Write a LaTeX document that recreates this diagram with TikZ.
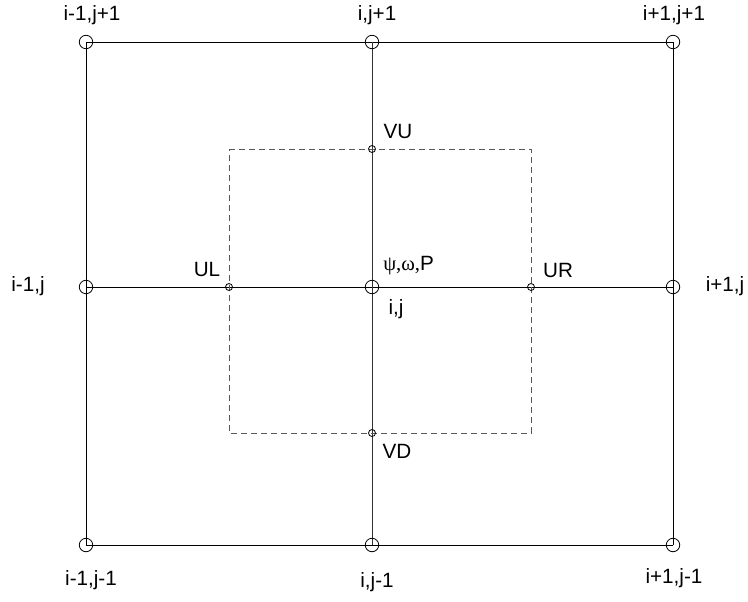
\documentclass[tikz,border=0pt]{standalone}
\usepackage{fontspec}
\setmainfont{Liberation Sans}
\newfontfamily\grk{Liberation Serif}
\begin{document}
\begin{tikzpicture}[x=0.75pt,y=-0.75pt,
  bigpt/.style={circle,draw,inner sep=0pt,minimum size=10.1pt,line width=0.6pt},
  smallpt/.style={circle,draw,inner sep=0pt,minimum size=5.25pt,line width=0.6pt},
  grid/.style={line width=0.7pt,black},
  dashbox/.style={line width=0.7pt,draw=black!65,dash pattern=on 4.5pt off 3pt},
  lbl/.style={font=\fontsize{15.5pt}{18pt}\selectfont,inner sep=0pt}]
\useasboundingbox (0,0) rectangle (748,601);
% grid points
\coordinate (c11) at (86,42);
\coordinate (c21) at (372,42);
\coordinate (c31) at (673,42);
\coordinate (c12) at (86,287);
\coordinate (c22) at (372,287);
\coordinate (c32) at (673,287);
\coordinate (c13) at (86,545);
\coordinate (c23) at (372,545);
\coordinate (c33) at (673,545);
% dashed cell corners
\coordinate (dtl) at (229,149);
\coordinate (dtr) at (531,149);
\coordinate (dbl) at (229,433);
\coordinate (dbr) at (531,433);
% grid lines
\draw[grid] (c11) -- (c31) (c12) -- (c32) (c13) -- (c33);
\draw[grid] (c11) -- (c13) (c31) -- (c33);
\draw[grid,black!80] (c21) -- (c23);
% dashed box
\draw[dashbox] (dtl) -- (dtr) -- (dbr) -- (dbl) -- cycle;
% nodes
\foreach \n in {c11,c21,c31,c12,c22,c32,c13,c23,c33}
  \node[bigpt] (p\n) at (\n) {};
\node[smallpt] (vu) at (372,149) {};
\node[smallpt] (vd) at (372,433) {};
\node[smallpt] (ul) at (229,287) {};
\node[smallpt] (ur) at (531,287) {};
% labels
\node[lbl] (l11) at (92,15) {i-1,j+1};
\node[lbl] (l21) at (377,15) {i,j+1};
\node[lbl] (l31) at (674,15) {i+1,j+1};
\node[lbl] (l12) at (28,286) {i-1,j};
\node[lbl] (l32) at (725,286) {i+1,j};
\node[lbl] (l13) at (91,580) {i-1,j-1};
\node[lbl] (l23) at (377,582) {i,j-1};
\node[lbl] (l33) at (674,578) {i+1,j-1};
\node[lbl] (lvu) at (398,131) {VU};
\node[lbl] (lvd) at (397,451) {VD};
\node[lbl] (lul) at (207,269) {UL};
\node[lbl] (lur) at (558,270) {UR};
\node[lbl,anchor=west] (lpsi) at (383,266) {{\grk ψ,ω,}P};
\node[lbl] (lij) at (396,309) {i,j};
\end{tikzpicture}
\end{document}
